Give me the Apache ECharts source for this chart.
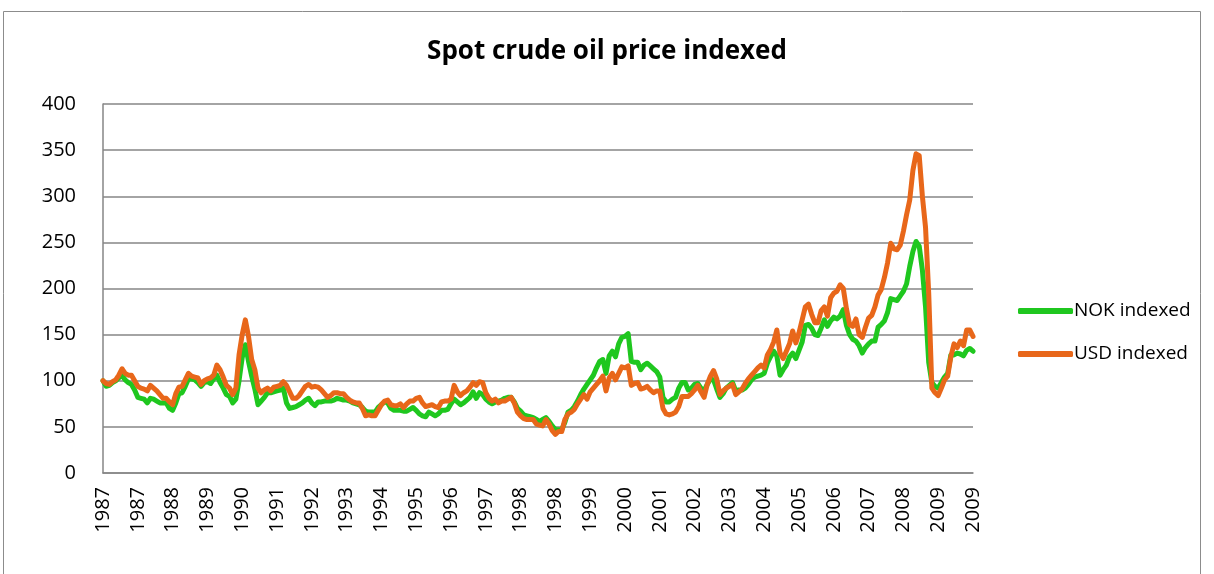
<!DOCTYPE html>
<html>
<head>
<meta charset="utf-8">
<script src="https://cdn.jsdelivr.net/npm/echarts@6/dist/echarts.min.js"></script>
<style>
  html, body { margin: 0; padding: 0; background: #fff; }
  #chart { width: 1214px; height: 574px; }
</style>
</head>
<body>
<div id="chart"></div>
<script>
// monthly categories, Jan 1987 .. Dec 2009 (label = year)
const years = [1987, 1988, 1989, 1990, 1991, 1992, 1993, 1994, 1995, 1996, 1997, 1998,
  1999, 2000, 2001, 2002, 2003, 2004, 2005, 2006, 2007, 2008, 2009]
const months = []
for (const y of years) {
  for (let m = 0; m < 12; m++) months.push(String(y))
}

// NOK indexed, one row per year
const nokIndexed = [
  100, 94, 95, 98, 100, 103, 106, 101, 98, 96, 90, 82,
  81, 80, 76, 81, 80, 78, 76, 76, 76, 70, 68, 76,
  86, 87, 94, 102, 102, 101, 98, 94, 98, 99, 97, 102,
  106, 98, 92, 85, 83, 76, 80, 100, 125, 139, 121, 105,
  91, 74, 78, 82, 87, 87, 88, 89, 90, 92, 76, 70,
  71, 72, 74, 76, 79, 81, 76, 73, 77, 77, 78, 78,
  78, 79, 81, 80, 79, 79, 78, 76, 75, 74, 71, 67,
  66, 66, 66, 71, 74, 77, 76, 70, 68, 68, 68, 67,
  67, 69, 71, 68, 64, 62, 61, 66, 64, 62, 64, 68,
  68, 69, 75, 80, 77, 74, 76, 79, 82, 88, 81, 87,
  85, 80, 77, 75, 77, 78, 79, 81, 82, 82, 77, 70,
  67, 63, 62, 61, 60, 58, 56, 58, 60, 56, 51, 47,
  47, 47, 55, 66, 68, 72, 78, 85, 91, 96, 101, 106,
  114, 121, 123, 108, 127, 132, 126, 140, 147, 148, 151, 121,
  120, 120, 112, 117, 119, 116, 113, 110, 104, 82, 77, 77,
  80, 82, 92, 98, 98, 90, 92, 96, 97, 92, 89, 96,
  102, 101, 91, 82, 86, 92, 95, 98, 89, 90, 90, 92,
  96, 101, 104, 105, 106, 108, 119, 126, 132, 127, 106, 112,
  117, 126, 130, 124, 133, 142, 160, 161, 157, 150, 149, 157,
  166, 159, 165, 169, 167, 170, 177, 160, 150, 145, 143, 138,
  130, 136, 140, 143, 143, 158, 161, 165, 174, 189, 188, 187,
  192, 197, 205, 224, 240, 251, 246, 220, 180, 120, 98, 94,
  92, 98, 104, 108, 128, 128, 130, 129, 127, 133, 135, 132
]

// USD indexed, one row per year
const usdIndexed = [
  100, 97, 96, 99, 101, 106, 113, 108, 106, 106, 100, 94,
  92, 91, 89, 95, 92, 89, 85, 81, 81, 77, 74, 86,
  93, 94, 101, 108, 105, 104, 103, 96, 100, 102, 103, 106,
  117, 112, 104, 95, 92, 85, 92, 128, 150, 166, 148, 123,
  112, 92, 87, 90, 92, 89, 93, 94, 95, 99, 95, 88,
  81, 81, 84, 89, 94, 96, 93, 94, 93, 90, 86, 82,
  84, 87, 87, 86, 86, 82, 79, 77, 76, 76, 70, 62,
  63, 62, 62, 68, 74, 78, 79, 74, 73, 73, 75, 71,
  75, 78, 78, 81, 82, 76, 72, 73, 74, 72, 71, 77,
  78, 78, 80, 95, 88, 84, 87, 89, 93, 98, 95, 99,
  98, 87, 81, 78, 80, 76, 78, 78, 80, 82, 76, 66,
  62, 59, 58, 58, 58, 53, 52, 51, 58, 53, 46, 42,
  45, 45, 58, 64, 66, 69, 75, 80, 85, 80, 88, 92,
  96, 100, 105, 89, 103, 108, 101, 108, 115, 114, 116, 95,
  97, 98, 91, 92, 94, 90, 87, 89, 89, 70, 64, 63,
  64, 66, 72, 83, 83, 83, 86, 90, 95, 88, 82, 96,
  105, 111, 102, 85, 89, 92, 94, 96, 85, 88, 91, 97,
  102, 106, 110, 114, 117, 114, 128, 134, 142, 155, 130, 124,
  132, 140, 154, 141, 152, 166, 180, 183, 172, 163, 163, 176,
  180, 170, 190, 195, 197, 204, 200, 178, 161, 159, 167, 150,
  147, 158, 168, 171, 180, 193, 199, 212, 228, 249, 243, 242,
  247, 262, 280, 296, 328, 346, 344, 300, 266, 195, 92, 87,
  84, 92, 101, 105, 126, 140, 136, 143, 138, 155, 155, 148
]

const seriesNames = ['NOK indexed', 'USD indexed']
const seriesColors = ['#1fc71f', '#e8671a']
const yTicks = [0, 50, 100, 150, 200, 250, 300, 350, 400]

const font = '"Open Sans", "DejaVu Sans", sans-serif'
const chart = echarts.init(document.getElementById('chart'))

const option = {
  animation: false,
  backgroundColor: '#fff',
  textStyle: { fontFamily: font },
  // --- chart area border, like the spreadsheet frame
  graphic: [{
    type: 'rect',
    shape: { x: 3.5, y: 11.5, width: 1197, height: 600 },
    style: { fill: 'none', stroke: '#8c8c8c', lineWidth: 1 },
    silent: true
  }],
  title: {
    text: 'Spot crude oil price indexed',
    left: 'center',
    top: 34,
    textStyle: { fontFamily: font, fontWeight: 'bold', fontSize: 26, color: '#000' }
  },
  legend: {
    orient: 'vertical',
    left: 1013,
    top: 294,
    itemWidth: 55,
    itemHeight: 6,
    itemGap: 19,
    icon: 'roundRect',
    textStyle: { fontFamily: font, fontSize: 19, color: '#000', lineHeight: 24, padding: [0, 0, 0, -4] },
    data: seriesNames
  },
  grid: { left: 103, right: 241, top: 104, bottom: 101, containLabel: false },
  xAxis: {
    type: 'category',
    boundaryGap: false,
    data: months,
    axisLine: { show: true, lineStyle: { color: '#868686', width: 1.5 } },
    axisTick: { show: false },
    axisLabel: {
      interval: 10,
      rotate: 90,
      margin: 14,
      fontFamily: font,
      fontSize: 20,
      color: '#000'
    },
    splitLine: { show: false }
  },
  yAxis: {
    type: 'value',
    min: yTicks[0],
    max: yTicks[yTicks.length - 1],
    interval: 50,
    axisLine: { show: true, lineStyle: { color: '#868686', width: 1.5 } },
    axisTick: { show: false },
    axisLabel: { margin: 27, fontFamily: font, fontSize: 20, color: '#000' },
    splitLine: { show: true, lineStyle: { color: '#868686', width: 1.5 } }
  },
  series: [
    {
      name: seriesNames[0],
      type: 'line',
      data: nokIndexed,
      symbol: 'none',
      color: seriesColors[0],
      lineStyle: { color: seriesColors[0], width: 5, join: 'round', cap: 'round' }
    },
    {
      name: seriesNames[1],
      type: 'line',
      data: usdIndexed,
      symbol: 'none',
      color: seriesColors[1],
      lineStyle: { color: seriesColors[1], width: 5, join: 'round', cap: 'round' }
    }
  ]
}

chart.setOption(option)
</script>
</body>
</html>
